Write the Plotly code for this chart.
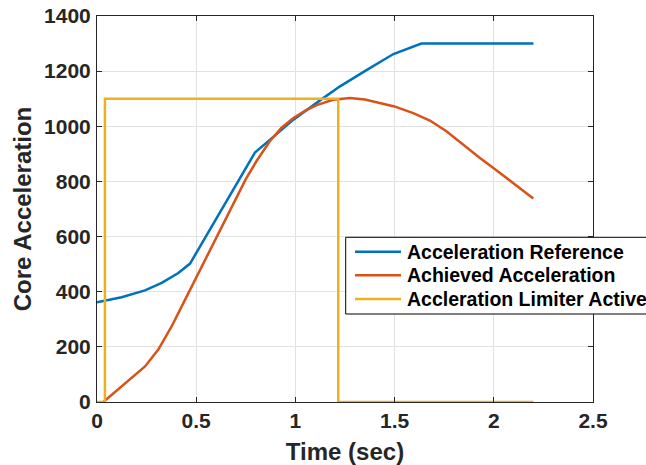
import plotly.graph_objects as go

# ---- data ----
ref_t = [0.0, 0.124, 0.242, 0.326, 0.41, 0.469, 0.796, 0.9, 0.99, 1.124, 1.225, 1.35, 1.494, 1.635, 2.2]
ref_v = [362, 380, 405, 432, 468, 502, 905, 968, 1024, 1094, 1145, 1200, 1262, 1300, 1300]

ach_t = [0.032, 0.124, 0.2, 0.242, 0.309, 0.376, 0.427, 0.477, 0.528, 0.578, 0.637, 0.7, 0.75,
         0.805, 0.87, 0.93, 0.99, 1.05, 1.107, 1.19, 1.275, 1.35, 1.426, 1.499, 1.594, 1.678,
         1.763, 1.846, 1.93, 1.998, 2.098, 2.199]
ach_v = [0, 57, 103, 129, 190, 274, 347, 419, 490, 562, 650, 740, 808,
         875, 945, 995, 1030, 1057, 1077, 1096, 1103, 1097, 1084, 1072, 1048, 1021,
         981, 933, 885, 849, 794, 738]

lim_t = [0.0, 0.04, 0.04, 1.216, 1.216, 2.2]
lim_v = [0, 0, 1100, 1100, 0, 0]

names = ["Acceleration Reference", "Achieved Acceleration", "Accleration Limiter Active"]
colors = ["#0072BD", "#D95319", "#EDB120"]

x_ticks = [0, 0.5, 1, 1.5, 2, 2.5]
x_labels = ["0", "0.5", "1", "1.5", "2", "2.5"]
y_ticks = [0, 200, 400, 600, 800, 1000, 1200, 1400]

FONT = "Liberation Sans, Arial, Helvetica, sans-serif"
INK = "#262626"

W, H = 646, 465
ML, MR, MT, MB = 97, 53, 16, 63
PW, PH = W - ML - MR, H - MT - MB


def px_x(px):
    return (px - ML) / PW


def px_y(py):
    return (H - MB - py) / PH


fig = go.Figure()
for t, v, n, c in zip([ref_t, ach_t, lim_t], [ref_v, ach_v, lim_v], names, colors):
    fig.add_trace(go.Scatter(x=t, y=v, mode="lines", name=n,
                             line=dict(color=c, width=2.5), showlegend=False))

axis_common = dict(
    showline=True, linecolor=INK, linewidth=1, mirror="ticks",
    ticks="inside", ticklen=5, tickcolor=INK, tickwidth=1,
    showgrid=True, gridcolor="#e2e2e2", gridwidth=1,
    zeroline=False, automargin=False,
    tickfont=dict(family=FONT, size=21, color=INK, weight="bold"),
)

fig.update_xaxes(range=[0, 2.5], tickvals=x_ticks, ticktext=x_labels,
                 title=dict(text="Time (sec)", font=dict(family=FONT, size=24, color=INK, weight="bold"), standoff=12),
                 **axis_common)
fig.update_yaxes(range=[0, 1400], tickvals=y_ticks, ticklabelstandoff=1,
                 title=dict(text="Core Acceleration", font=dict(family=FONT, size=24, color=INK, weight="bold"), standoff=5),
                 **axis_common)

# ---- legend (drawn manually so it can run past the right edge like the reference) ----
box_l, box_t, box_b = 345.7, 237.3, 314.0
rows = [251.7, 275.3, 299.0]
shapes = [dict(type="rect", xref="paper", yref="paper",
               x0=px_x(box_l), x1=px_x(W + 20), y0=px_y(box_b), y1=px_y(box_t),
               line=dict(color="black", width=1), fillcolor="white", layer="above")]
annotations = []
for r, n, c in zip(rows, names, colors):
    shapes.append(dict(type="line", xref="paper", yref="paper",
                       x0=px_x(355), x1=px_x(401), y0=px_y(r), y1=px_y(r),
                       line=dict(color=c, width=2.5), layer="above"))
    annotations.append(dict(xref="paper", yref="paper", x=px_x(405), y=px_y(r),
                            xanchor="left", yanchor="middle", text=n, showarrow=False,
                            font=dict(family=FONT, size=19.5, color="black", weight="bold")))

fig.update_layout(
    width=W, height=H,
    margin=dict(l=ML, r=MR, t=MT, b=MB, autoexpand=False),
    paper_bgcolor="white", plot_bgcolor="white",
    showlegend=False,
    shapes=shapes, annotations=annotations,
)

fig.write_html("out.html",
               config={"displayModeBar": False},
               post_script="document.body.style.margin='0px';document.body.style.overflow='hidden';")
